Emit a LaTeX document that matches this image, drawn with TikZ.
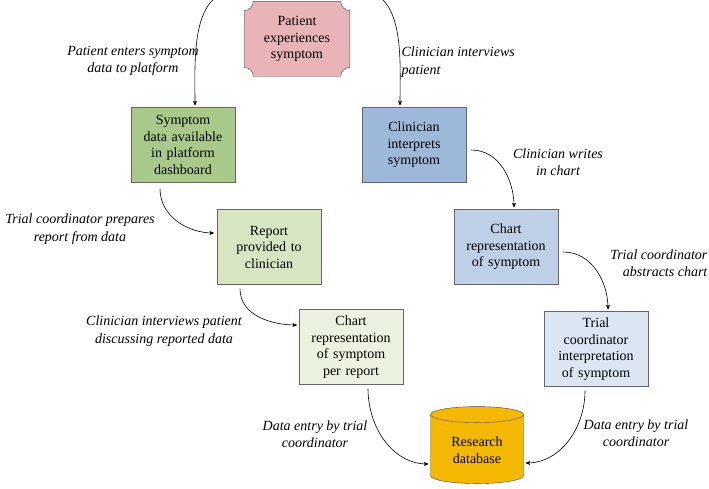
\documentclass[tikz,border=0pt]{standalone}
\usepackage{fontspec}
\setmainfont{Liberation Serif}
\usetikzlibrary{arrows,shapes.geometric,positioning}
\definecolor{plaquefill}{HTML}{E8B4B8}
\definecolor{greenA}{HTML}{A9C98A}
\definecolor{greenB}{HTML}{D6E6C3}
\definecolor{greenC}{HTML}{EBF2E0}
\definecolor{blueA}{HTML}{9DB8D9}
\definecolor{blueB}{HTML}{BED0E8}
\definecolor{blueC}{HTML}{DCE6F2}
\definecolor{dbfill}{HTML}{F5B800}

\begin{document}
\begin{tikzpicture}[x=1pt,y=-1pt,->,>=stealth',semithick,shorten >=2pt,
  every node/.style={font=\fontsize{14}{16.5}\selectfont},
  box/.style={draw=black!60,thin,minimum width=104pt,minimum height=75pt,align=center,text width=100pt,inner sep=1pt},
  note/.style={font=\fontsize{14}{17.5}\selectfont\itshape,align=center}]
  \useasboundingbox (0,0) rectangle (709,489);

  % top plaque
  \node[align=center,minimum width=105pt,minimum height=74pt] (pat) at (297,39) {};
  \draw[-,shorten >=0pt,fill=plaquefill,draw=black!70,thin]
    ([xshift=9pt]pat.north west) -- ([xshift=-9pt]pat.north east)
    arc[start angle=180,end angle=270,radius=9pt] -- ([yshift=9pt]pat.south east)
    arc[start angle=90,end angle=180,radius=9pt] -- ([xshift=9pt]pat.south west)
    arc[start angle=0,end angle=90,radius=9pt] -- ([yshift=-9pt]pat.north west)
    arc[start angle=270,end angle=360,radius=9pt] -- cycle;
  \node[align=center] at (pat) {Patient\\experiences\\symptom};

  % platform branch
  \node[box,fill=greenA] (sym) at (183,145) {Symptom data available in platform dashboard};
  \node[box,fill=greenB] (rep) at (269,247) {Report\\provided to\\clinician};
  \node[box,fill=greenC] (chr) at (351,347) {Chart\\representation\\of symptom\\per report};

  % chart branch
  \node[box,fill=blueA] (cli) at (414,145) {Clinician\\interprets\\symptom};
  \node[box,fill=blueB] (cha) at (506,247) {Chart\\representation\\of symptom};
  \node[box,fill=blueC] (tri) at (596,349) {Trial\\coordinator\\interpretation\\of symptom};

  \node[cylinder,shape border rotate=90,aspect=0.3,draw=black!70,thin,fill=dbfill,
        minimum width=93pt,minimum height=77pt,align=center,inner sep=1pt] (db) at (477,450) {Research\\database};

  \draw ([shift={(-5pt,12pt)}]pat.north west) to[out=180,in=90] ([xshift=12pt]sym.north);
  \draw ([shift={(7pt,12pt)}]pat.north east) to[out=0,in=90] ([xshift=-14pt]cli.north);
  \draw ([shift={(-23pt,-6pt)}]sym.south) to[out=-90,in=180] ([shift={(-1pt,14pt)}]rep.west);
  \draw ([shift={(5pt,-5pt)}]cli.east) to[out=0,in=90] ([xshift=8pt]cha.north);
  \draw ([shift={(-29pt,-4pt)}]rep.south) to[out=-90,in=180] ([yshift=22pt]chr.west);
  \draw ([shift={(5pt,-5pt)}]cha.east) to[out=0,in=90] ([xshift=12pt]tri.north);
  \draw ([shift={(17pt,-4pt)}]chr.south) to[out=-90,in=180] ([yshift=-14pt]db.west);
  \draw ([shift={(-11pt,-4pt)}]tri.south) to[out=-90,in=0] ([yshift=-13pt]db.east);

  \node[note] (n1) at (133,61) {Patient enters symptom\\data to platform};
  \node[note,align=left,anchor=west] (n2) at (398,62) {Clinician interviews\\patient};
  \node[note] (n3) at (558,162) {Clinician writes\\in chart};
  \node[note] (n4) at (80,229) {Trial coordinator prepares\\report from data};
  \node[note,align=right,anchor=east] (n5) at (711,263) {Trial coordinator\\abstracts chart};
  \node[note] (n6) at (164,331) {Clinician interviews patient\\discussing reported data};
  \node[note] (n7) at (315,434) {Data entry by trial\\coordinator};
  \node[note] (n8) at (636,433) {Data entry by trial\\coordinator};
\end{tikzpicture}
\end{document}
